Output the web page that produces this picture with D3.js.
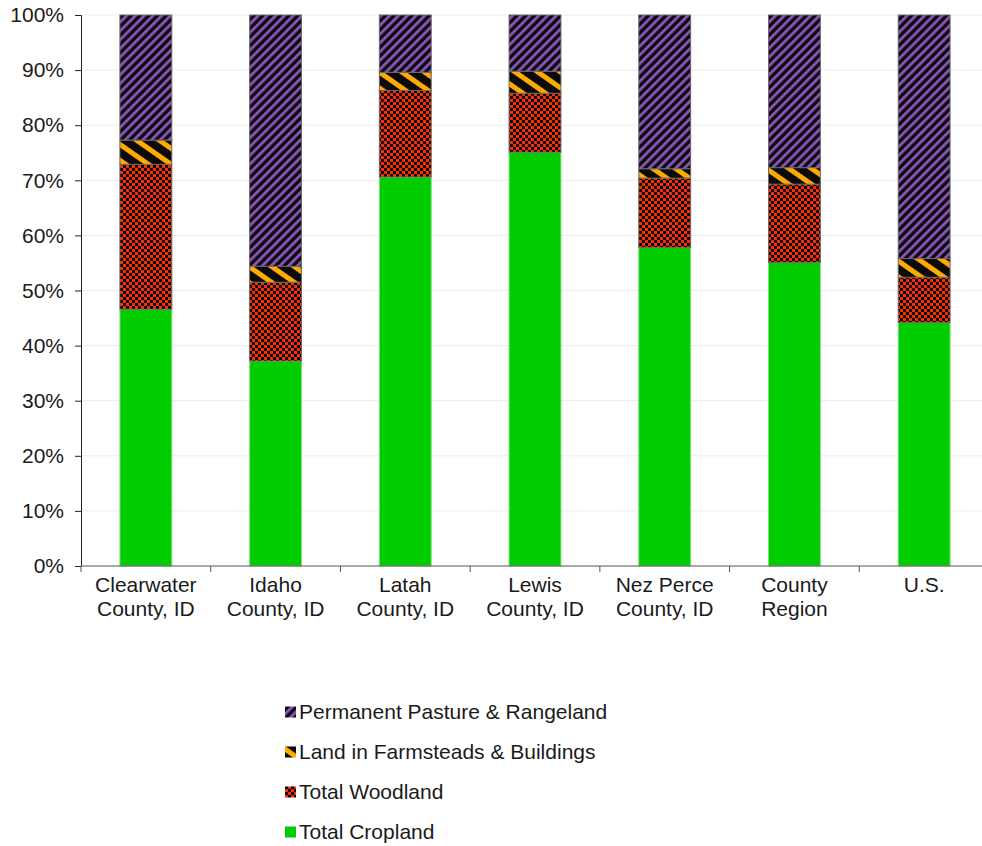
<!DOCTYPE html>
<html>
<head>
<meta charset="utf-8">
<script src="https://cdn.jsdelivr.net/npm/d3@7"></script>
<style>
  html, body { margin: 0; padding: 0; background: #fff; }
  svg { display: block; font-family: Arial, "Liberation Sans", sans-serif; }
</style>
</head>
<body>
<svg id="chart" width="982" height="846"></svg>
<script>
// Land use shares (%) by area
const categories = [
  ["Clearwater", "County, ID"],
  ["Idaho", "County, ID"],
  ["Latah", "County, ID"],
  ["Lewis", "County, ID"],
  ["Nez Perce", "County, ID"],
  ["County", "Region"],
  ["U.S."]
];
const seriesNames = [
  "Total Cropland",
  "Total Woodland",
  "Land in Farmsteads & Buildings",
  "Permanent Pasture & Rangeland"
];
const cropland   = [46.6, 37.2, 70.6, 75.1, 57.8, 55.1, 44.2];
const woodland   = [26.3, 14.3, 15.7, 10.7, 12.6, 14.2,  8.2];
const farmstead  = [ 4.4,  2.9,  3.3,  4.0,  1.7,  3.0,  3.4];
const pasture    = [22.7, 45.6, 10.4, 10.2, 27.9, 27.7, 44.2];
const yTicks = [0, 10, 20, 30, 40, 50, 60, 70, 80, 90, 100];

const svg = d3.select("#chart");
const margin = { left: 81, top: 15, right: 989, bottom: 566 };
const fontSize = 21;

// Fill patterns
const defs = svg.append("defs");

const pPasture = defs.append("pattern")
  .attr("id", "pat-pasture").attr("patternUnits", "userSpaceOnUse")
  .attr("width", 6.2).attr("height", 6.2)
  .attr("patternTransform", "rotate(45)");
pPasture.append("rect").attr("width", 6.2).attr("height", 6.2).attr("fill", "#0a0a0a");
pPasture.append("rect").attr("width", 2.9).attr("height", 6.2).attr("fill", "#8a52b8");

const pFarm = defs.append("pattern")
  .attr("id", "pat-farm").attr("patternUnits", "userSpaceOnUse")
  .attr("width", 13).attr("height", 13)
  .attr("patternTransform", "rotate(-55)");
pFarm.append("rect").attr("width", 13).attr("height", 13).attr("fill", "#0a0a0a");
pFarm.append("rect").attr("width", 5).attr("height", 13).attr("fill", "#ffaa00");

const pWood = defs.append("pattern")
  .attr("id", "pat-wood").attr("patternUnits", "userSpaceOnUse")
  .attr("width", 6).attr("height", 6);
pWood.append("rect").attr("width", 6).attr("height", 6).attr("fill", "#ff2a00");
pWood.append("rect").attr("x", 0).attr("y", 0).attr("width", 3).attr("height", 3).attr("fill", "#050505");
pWood.append("rect").attr("x", 3).attr("y", 3).attr("width", 3).attr("height", 3).attr("fill", "#050505");

const fills = ["#00cc00", "url(#pat-wood)", "url(#pat-farm)", "url(#pat-pasture)"];

// Scales
const idx = d3.range(categories.length);
const x = d3.scaleBand().domain(idx).range([margin.left, margin.right])
  .paddingInner(0.6).paddingOuter(0.3);
const y = d3.scaleLinear().domain([0, 100]).range([margin.bottom, margin.top]);

// Gridlines
svg.append("g").selectAll("line").data(yTicks.filter(t => t > 0)).join("line")
  .attr("x1", margin.left).attr("x2", 982)
  .attr("y1", d => y(d)).attr("y2", d => y(d))
  .attr("stroke", "#ececec").attr("stroke-width", 1);

// Stacked bars
const rows = idx.map(i => ({ i, s0: cropland[i], s1: woodland[i], s2: farmstead[i], s3: pasture[i] }));
const stack = d3.stack().keys(["s0", "s1", "s2", "s3"]);
const layers = stack(rows);

svg.append("g").selectAll("g").data(layers).join("g")
  .attr("fill", (d, k) => fills[k])
  .selectAll("rect").data(d => d).join("rect")
  .attr("x", d => x(d.data.i))
  .attr("width", x.bandwidth())
  .attr("y", d => y(d[1]))
  .attr("height", d => y(d[0]) - y(d[1]))
  .attr("stroke", function () { return d3.select(this.parentNode).datum().key === "s0" ? "#7ee27e" : "#6a6a6a"; })
  .attr("stroke-width", 1);

// Y axis
const yAxis = d3.axisLeft(y).tickValues(yTicks).tickFormat(d => d + "%").tickSizeOuter(0).tickSize(6);
const gy = svg.append("g").attr("transform", `translate(${margin.left},0)`).call(yAxis);
gy.select(".domain").attr("stroke", "#222");
gy.selectAll(".tick line").attr("stroke", "#222");
gy.selectAll(".tick text").attr("font-size", fontSize).attr("fill", "#1a1a1a")
  .attr("font-family", "Arial, 'Liberation Sans', sans-serif").attr("x", -17);

// X axis baseline and category separators
const gx = svg.append("g");
gx.append("line").attr("x1", margin.left).attr("x2", 982)
  .attr("y1", y(0)).attr("y2", y(0)).attr("stroke", "#555");
const sep = idx.map(i => x(i) - x.step() * x.paddingInner() / 2);
gx.selectAll("line.sep").data(sep).join("line").attr("class", "sep")
  .attr("x1", d => d).attr("x2", d => d)
  .attr("y1", y(0)).attr("y2", y(0) + 6).attr("stroke", "#555");

gx.selectAll("text").data(idx).join("text")
  .attr("x", i => x(i) + x.bandwidth() / 2)
  .attr("y", y(0) + 26)
  .attr("text-anchor", "middle").attr("font-size", fontSize).attr("fill", "#1a1a1a")
  .each(function (i) {
    const t = d3.select(this);
    categories[i].forEach((line, k) => {
      t.append("tspan").attr("x", x(i) + x.bandwidth() / 2).attr("dy", k === 0 ? 0 : 24).text(line);
    });
  });

// Legend (top entry is the top of the stack)
const legendOrder = [3, 2, 1, 0];
const lg = svg.append("g");
const item = lg.selectAll("g").data(legendOrder).join("g")
  .attr("transform", (d, k) => `translate(285, ${712 + k * 40})`);
item.append("rect").attr("x", 0).attr("y", -5.5).attr("width", 11).attr("height", 11)
  .attr("fill", d => fills[d]);
item.append("text").attr("x", 14).attr("y", 0).attr("dy", "0.35em")
  .attr("font-size", fontSize).attr("fill", "#1a1a1a").text(d => seriesNames[d]);
</script>
</body>
</html>
